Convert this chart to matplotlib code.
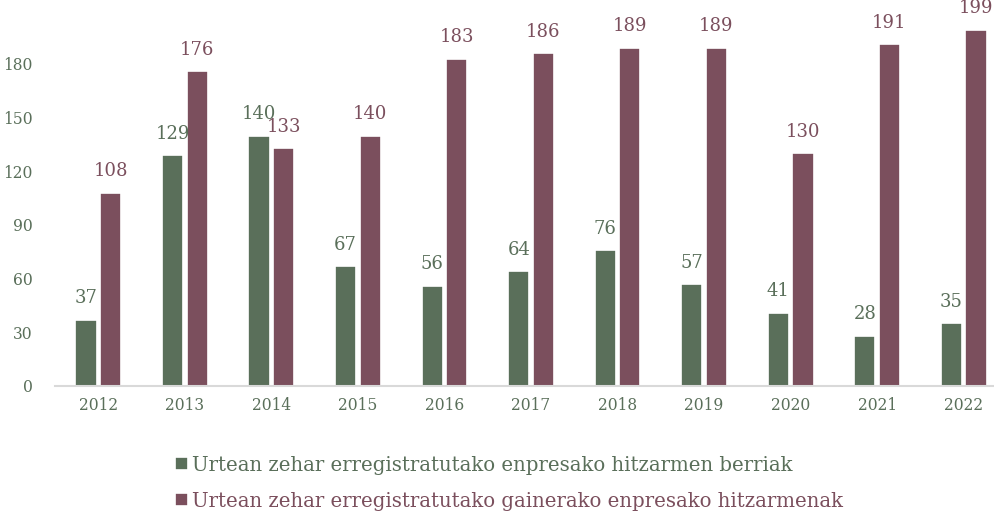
import matplotlib
matplotlib.use("Agg")
import matplotlib.pyplot as plt
import numpy as np

# yearly counts of company agreements
years = ["2012", "2013", "2014", "2015", "2016", "2017", "2018", "2019", "2020", "2021", "2022"]
berriak = [37, 129, 140, 67, 56, 64, 76, 57, 41, 28, 35]
gainerakoak = [108, 176, 133, 140, 183, 186, 189, 189, 130, 191, 199]
legend_labels = ["Urtean zehar erregistratutako enpresako hitzarmen berriak",
                 "Urtean zehar erregistratutako gainerako enpresako hitzarmenak"]

green = "#5a6f5a"
maroon = "#7b4f5d"

plt.rcParams["font.family"] = ["DejaVu Serif"]

fig = plt.figure(figsize=(9.94, 5.15), dpi=100)
ax = fig.add_axes([55 / 994, 0.2505, 952 / 994, 0.7295])

x = np.arange(len(years))
w = 0.245
b1 = ax.bar(x - 0.142, berriak, w, color=green, edgecolor="white", linewidth=1.2, label=legend_labels[0])
b2 = ax.bar(x + 0.142, gainerakoak, w, color=maroon, edgecolor="white", linewidth=1.2, label=legend_labels[1])

for bars, col in ((b1, green), (b2, maroon)):
    for r in bars:
        ax.annotate(str(int(r.get_height())), (r.get_x() + r.get_width() / 2, r.get_height()),
                    xytext=(0, 9), textcoords="offset points", ha="center", va="bottom",
                    fontsize=13, color=col)

ax.set_xlim(-0.5, len(years) - 0.5)
ax.set_ylim(0, 210)
ax.set_yticks(range(0, 181, 30))
ax.set_xticks(x)
ax.set_xticklabels(years)
ax.tick_params(axis="both", length=0, labelsize=11.2, labelcolor=green)
ax.tick_params(axis="x", pad=8)
ax.tick_params(axis="y", pad=16)
for s in ("top", "right", "left"):
    ax.spines[s].set_visible(False)
ax.spines["bottom"].set_color("#d9d9d9")
ax.spines["bottom"].set_linewidth(1.5)

leg = fig.legend(handles=[b1, b2], labels=legend_labels, loc="upper left",
                 bbox_to_anchor=(157 / 994, 1 - 438 / 515), frameon=False,
                 fontsize=14.2, handlelength=0.65, handleheight=0.65,
                 handletextpad=0.25, labelspacing=0.85)
for t, col in zip(leg.get_texts(), (green, maroon)):
    t.set_color(col)

fig.savefig("out.png", dpi=100)
